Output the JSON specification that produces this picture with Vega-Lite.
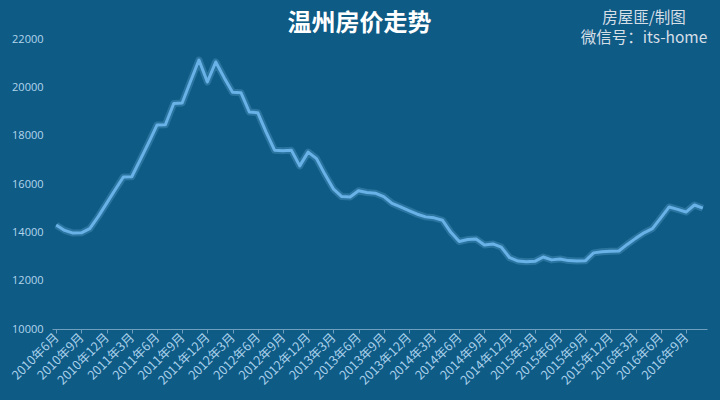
{
  "$schema": "https://vega.github.io/schema/vega-lite/v6.json",
  "width": 655,
  "height": 290,
  "autosize": {"type": "none"},
  "padding": {"left": 52, "top": 39, "right": 13, "bottom": 71},
  "background": "#0e5b86",
  "config": {"view": {"stroke": null}},
  "title": {
    "text": "温州房价走势",
    "font": "Noto Sans CJK SC",
    "fontSize": 24,
    "fontWeight": "bold",
    "color": "#ffffff",
    "anchor": "middle",
    "dx": -20,
    "offset": -25
  },
  "datasets": {
    "price": [
      {"m": "2010年6月", "v": 14300}, {"m": "2010年7月", "v": 14080}, {"m": "2010年8月", "v": 13970},
      {"m": "2010年9月", "v": 13980}, {"m": "2010年10月", "v": 14150}, {"m": "2010年11月", "v": 14650},
      {"m": "2010年12月", "v": 15200}, {"m": "2011年1月", "v": 15750}, {"m": "2011年2月", "v": 16290},
      {"m": "2011年3月", "v": 16300}, {"m": "2011年4月", "v": 17000}, {"m": "2011年5月", "v": 17700},
      {"m": "2011年6月", "v": 18440}, {"m": "2011年7月", "v": 18450}, {"m": "2011年8月", "v": 19330},
      {"m": "2011年9月", "v": 19350}, {"m": "2011年10月", "v": 20250}, {"m": "2011年11月", "v": 21130},
      {"m": "2011年12月", "v": 20220}, {"m": "2012年1月", "v": 21050}, {"m": "2012年2月", "v": 20400},
      {"m": "2012年3月", "v": 19800}, {"m": "2012年4月", "v": 19780}, {"m": "2012年5月", "v": 18980},
      {"m": "2012年6月", "v": 18950}, {"m": "2012年7月", "v": 18150}, {"m": "2012年8月", "v": 17400},
      {"m": "2012年9月", "v": 17380}, {"m": "2012年10月", "v": 17400}, {"m": "2012年11月", "v": 16750},
      {"m": "2012年12月", "v": 17320}, {"m": "2013年1月", "v": 17050}, {"m": "2013年2月", "v": 16400},
      {"m": "2013年3月", "v": 15800}, {"m": "2013年4月", "v": 15480}, {"m": "2013年5月", "v": 15460},
      {"m": "2013年6月", "v": 15720}, {"m": "2013年7月", "v": 15650}, {"m": "2013年8月", "v": 15620},
      {"m": "2013年9月", "v": 15480}, {"m": "2013年10月", "v": 15200}, {"m": "2013年11月", "v": 15050},
      {"m": "2013年12月", "v": 14900}, {"m": "2014年1月", "v": 14750}, {"m": "2014年2月", "v": 14640},
      {"m": "2014年3月", "v": 14600}, {"m": "2014年4月", "v": 14500}, {"m": "2014年5月", "v": 14000},
      {"m": "2014年6月", "v": 13620}, {"m": "2014年7月", "v": 13700}, {"m": "2014年8月", "v": 13720},
      {"m": "2014年9月", "v": 13480}, {"m": "2014年10月", "v": 13520}, {"m": "2014年11月", "v": 13390},
      {"m": "2014年12月", "v": 12950}, {"m": "2015年1月", "v": 12810}, {"m": "2015年2月", "v": 12780},
      {"m": "2015年3月", "v": 12800}, {"m": "2015年4月", "v": 12980}, {"m": "2015年5月", "v": 12860},
      {"m": "2015年6月", "v": 12900}, {"m": "2015年7月", "v": 12830}, {"m": "2015年8月", "v": 12810},
      {"m": "2015年9月", "v": 12820}, {"m": "2015年10月", "v": 13150}, {"m": "2015年11月", "v": 13200},
      {"m": "2015年12月", "v": 13220}, {"m": "2016年1月", "v": 13230}, {"m": "2016年2月", "v": 13500},
      {"m": "2016年3月", "v": 13750}, {"m": "2016年4月", "v": 13980}, {"m": "2016年5月", "v": 14150},
      {"m": "2016年6月", "v": 14600}, {"m": "2016年7月", "v": 15050}, {"m": "2016年8月", "v": 14950},
      {"m": "2016年9月", "v": 14840}, {"m": "2016年10月", "v": 15130}, {"m": "2016年11月", "v": 15000}
    ],
    "mark": [
      {"m": "2016年4月", "v": 22866, "t": "房屋匪/制图"},
      {"m": "2016年4月", "v": 22039, "t": "微信号：its-home"}
    ]
  },
  "encoding": {
    "x": {
      "field": "m",
      "type": "ordinal",
      "sort": null,
      "scale": {
        "type": "point",
        "padding": 0.5,
        "domain": ["2010年6月","2010年7月","2010年8月","2010年9月","2010年10月","2010年11月","2010年12月",
          "2011年1月","2011年2月","2011年3月","2011年4月","2011年5月","2011年6月","2011年7月","2011年8月","2011年9月","2011年10月","2011年11月","2011年12月",
          "2012年1月","2012年2月","2012年3月","2012年4月","2012年5月","2012年6月","2012年7月","2012年8月","2012年9月","2012年10月","2012年11月","2012年12月",
          "2013年1月","2013年2月","2013年3月","2013年4月","2013年5月","2013年6月","2013年7月","2013年8月","2013年9月","2013年10月","2013年11月","2013年12月",
          "2014年1月","2014年2月","2014年3月","2014年4月","2014年5月","2014年6月","2014年7月","2014年8月","2014年9月","2014年10月","2014年11月","2014年12月",
          "2015年1月","2015年2月","2015年3月","2015年4月","2015年5月","2015年6月","2015年7月","2015年8月","2015年9月","2015年10月","2015年11月","2015年12月",
          "2016年1月","2016年2月","2016年3月","2016年4月","2016年5月","2016年6月","2016年7月","2016年8月","2016年9月","2016年10月","2016年11月"]
      },
      "axis": {
        "title": null,
        "values": ["2010年6月","2010年9月","2010年12月","2011年3月","2011年6月","2011年9月","2011年12月",
          "2012年3月","2012年6月","2012年9月","2012年12月","2013年3月","2013年6月","2013年9月","2013年12月",
          "2014年3月","2014年6月","2014年9月","2014年12月","2015年3月","2015年6月","2015年9月","2015年12月",
          "2016年3月","2016年6月","2016年9月"],
        "labelAngle": -45,
        "labelAlign": "right",
        "labelBaseline": "middle",
        "labelFont": "Noto Sans CJK SC",
        "labelFontSize": 12.5,
        "labelColor": "#a9d0ea",
        "labelPadding": 2,
        "labelOverlap": false,
        "domainColor": "#6f9fbf",
        "domainWidth": 1,
        "tickColor": "#6f9fbf",
        "tickSize": 4,
        "grid": false
      }
    },
    "y": {
      "field": "v",
      "type": "quantitative",
      "scale": {"domain": [10000, 22000], "zero": false, "nice": false},
      "axis": {
        "title": null,
        "values": [10000, 12000, 14000, 16000, 18000, 20000, 22000],
        "format": "d",
        "domain": false,
        "ticks": false,
        "grid": false,
        "labelFont": "Open Sans",
        "labelFontSize": 11,
        "labelColor": "#b3d6ec",
        "labelPadding": 9
      }
    }
  },
  "layer": [
    {
      "data": {"name": "price"},
      "mark": {"type": "line", "color": "#7fc0f0", "strokeWidth": 7, "opacity": 0.25, "strokeJoin": "round"}
    },
    {
      "data": {"name": "price"},
      "mark": {"type": "line", "color": "#68b2e8", "strokeWidth": 3, "strokeJoin": "round"}
    },
    {
      "data": {"name": "mark"},
      "mark": {"type": "text", "font": "Noto Sans CJK SC", "fontSize": 15.5, "color": "#d6dfe6", "align": "center", "baseline": "middle"},
      "encoding": {"text": {"field": "t"}}
    }
  ]
}
